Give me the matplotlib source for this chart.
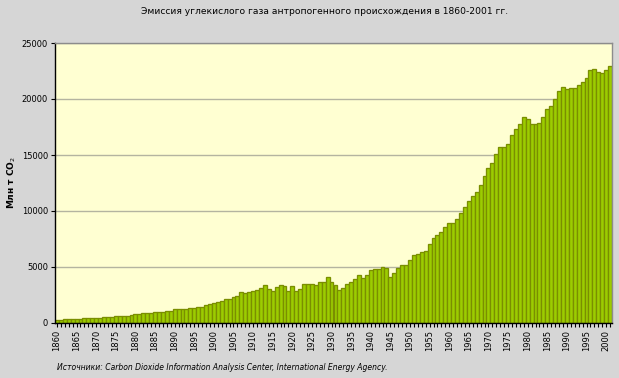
import numpy as np
import matplotlib
matplotlib.use("Agg")
import matplotlib.pyplot as plt
from matplotlib.ticker import MultipleLocator

# data (Mt CO2 per year)
years = list(range(1860, 2002))
emissions = [
    300, 310, 320, 330, 360, 370, 390, 410, 420, 450,            # 1860s
    470, 490, 540, 560, 570, 590, 620, 640, 650, 680,            # 1870s
    790, 820, 860, 900, 930, 940, 960, 1000, 1070, 1090,         # 1880s
    1220, 1230, 1240, 1260, 1330, 1360, 1420, 1450, 1580, 1720,  # 1890s
    1815, 1875, 1990, 2140, 2140, 2290, 2440, 2740, 2650, 2770,  # 1900s
    2860, 2950, 3100, 3360, 3010, 2890, 3190, 3360, 3300, 2830,  # 1910s
    3300, 2830, 3010, 3450, 3450, 3450, 3360, 3690, 3690, 4080,  # 1920s
    3690, 3360, 2950, 3100, 3450, 3630, 3930, 4250, 3990, 4290,  # 1930s
    4730, 4790, 4790, 4970, 4880, 4080, 4440, 4880, 5150, 5150,  # 1940s
    5625, 6040, 6130, 6310, 6430, 7020, 7560, 7830, 8125, 8540,  # 1950s
    8900, 8900, 9260, 9790, 10330, 10860, 11340, 11670, 12320, 13125,      # 1960s
    13810, 14310, 15060, 15690, 15690, 15950, 16790, 17300, 17770, 18370,  # 1970s
    18190, 17740, 17740, 17830, 18370, 19110, 19380, 19970, 20740, 21100,  # 1980s
    20900, 20950, 20950, 21250, 21550, 21850, 22590, 22650, 22410, 22290,  # 1990s
    22590, 22950,                                                          # 2000-2001
]
label_years = [y for y in years if y % 5 == 0]
y_ticks = [0, 5000, 10000, 15000, 20000, 25000]

title = "Эмиссия углекислого газа антропогенного происхождения в 1860-2001 гг."
ylabel = "Млн т CO$_2$"
source = "Источники: Carbon Dioxide Information Analysis Center, International Energy Agency."

plt.rcParams['font.family'] = ['DejaVu Sans']

bg = "#d6d6d6"
fig = plt.figure(figsize=(6.19, 3.78), dpi=100, facecolor=bg)
ax = fig.add_axes([55 / 619, 55 / 378, 557 / 619, 280 / 378])
ax.set_facecolor("#ffffd2")

x = np.arange(len(years))
ax.bar(x, emissions, width=1.0, color="#9ccc00", edgecolor="#7a8e00", linewidth=0.95, zorder=2)

ax.set_xlim(-0.5, len(years) - 0.5)
ax.set_ylim(0, 25000)
ax.set_yticks(y_ticks)
ax.yaxis.grid(True, color="#b4b4a0", linewidth=1.0, zorder=1)
ax.tick_params(axis="y", labelsize=6, length=3, width=0.8, pad=2)

ax.set_xticks([years.index(y) for y in label_years])
ax.set_xticklabels([str(y) for y in label_years], rotation=90, fontsize=6)
ax.xaxis.set_minor_locator(MultipleLocator(1))
ax.tick_params(axis="x", which="both", length=3, width=0.8, pad=2)
ax.set_xticks(x, minor=True)

for side in ["top", "right"]:
    ax.spines[side].set_color("#8c8c8c")
    ax.spines[side].set_linewidth(1.0)
for side in ["left", "bottom"]:
    ax.spines[side].set_color("black")
    ax.spines[side].set_linewidth(1.0)

fig.text(325 / 619, 1 - 12 / 378, title, ha="center", va="center", fontsize=6.6)
fig.text(12 / 619, 1 - 183 / 378, ylabel, ha="center", va="center", rotation=90,
         fontsize=6.5, fontweight="bold")
fig.text(57 / 619, 1 - 368 / 378, source, ha="left", va="center", fontsize=5.5, style="italic")

fig.savefig("out.png", dpi=100, facecolor=bg)
